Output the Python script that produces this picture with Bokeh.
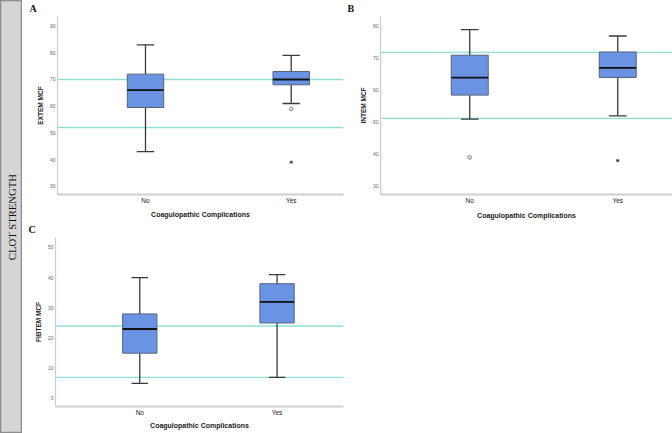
import math
from bokeh.plotting import figure
from bokeh.layouts import row, column
from bokeh.models import Range1d, FixedTicker, Span, Label
from bokeh.embed import file_html
from bokeh.resources import INLINE

# ---------------- data ----------------
categories = ["No", "Yes"]

extem_low = [43, 61]
extem_q1 = [59.5, 68]
extem_median = [66, 70]
extem_q3 = [72, 73]
extem_high = [83, 79]
extem_mild_cat = ["Yes"]
extem_mild_val = [59]
extem_extreme_cat = ["Yes"]
extem_extreme_val = [39]
extem_refs = [52, 70]
extem_ticks = [30, 40, 50, 60, 70, 80, 90]

intem_low = [51, 52]
intem_q1 = [58.5, 64]
intem_median = [64, 67]
intem_q3 = [71, 72]
intem_high = [79, 77]
intem_mild_cat = ["No"]
intem_mild_val = [39]
intem_extreme_cat = ["Yes"]
intem_extreme_val = [38]
intem_refs = [51.2, 71.9]
intem_ticks = [30, 40, 50, 60, 70, 80]

fibtem_low = [5, 7]
fibtem_q1 = [15, 25]
fibtem_median = [23, 32]
fibtem_q3 = [28, 38]
fibtem_high = [40, 41]
fibtem_mild_cat = []
fibtem_mild_val = []
fibtem_extreme_cat = []
fibtem_extreme_val = []
fibtem_refs = [7, 24]
fibtem_ticks = [0, 10, 20, 30, 40, 50]

x_title = "Coagulopathic Complications"
side_label = "CLOT STRENGTH"

# ---------------- style ----------------
BOX_FILL = "#6a93e4"
BOX_LINE = "#56647a"
WHISK = "#3a3a3a"
REF = "#8fe0d4"
AXIS = "#cfcfcf"
SANS = "Liberation Sans"
SERIF = "Liberation Serif"
BOX_W = 0.25
CAP_W = 0.12

pos = {c: i + 1 for i, c in enumerate(categories)}
xs = [pos[c] for c in categories]


def make_panel(letter, letter_off, ylabel, low, q1, med, q3, high,
               mild_cat, mild_val, ext_cat, ext_val, refs, yticks,
               xr, yr, width, height, mbl, mbr, mbt, mbb, xlab_standoff):
    p = figure(width=width, height=height, x_range=Range1d(*xr), y_range=Range1d(*yr),
               output_backend="svg", toolbar_location=None, title=letter,
               min_border_left=mbl, min_border_right=mbr,
               min_border_top=mbt, min_border_bottom=mbb)
    p.outline_line_color = None
    p.grid.visible = False
    p.background_fill_color = "white"
    p.border_fill_color = "white"

    p.title.text_font = SERIF
    p.title.text_font_style = "bold"
    p.title.text_font_size = "10px"
    p.title.text_color = "#111111"
    p.title.align = "left"
    p.title.vertical_align = "top"
    p.title.offset = letter_off
    p.title.standoff = 2

    for r in refs:
        p.add_layout(Span(location=r, dimension="width", line_color=REF,
                          line_width=1.3, level="underlay"))

    # whiskers
    p.segment(x0=xs, y0=q3, x1=xs, y1=high, line_color=WHISK, line_width=1.3)
    p.segment(x0=xs, y0=q1, x1=xs, y1=low, line_color=WHISK, line_width=1.3)
    # caps
    p.segment(x0=[x - CAP_W / 2 for x in xs], y0=high, x1=[x + CAP_W / 2 for x in xs], y1=high,
              line_color=WHISK, line_width=1.3)
    p.segment(x0=[x - CAP_W / 2 for x in xs], y0=low, x1=[x + CAP_W / 2 for x in xs], y1=low,
              line_color=WHISK, line_width=1.3)
    # boxes
    p.vbar(x=xs, width=BOX_W, bottom=q1, top=q3, fill_color=BOX_FILL,
           line_color=BOX_LINE, line_width=1)
    # medians
    p.segment(x0=[x - BOX_W / 2 for x in xs], y0=med, x1=[x + BOX_W / 2 for x in xs], y1=med,
              line_color="#111111", line_width=1.8)
    # outliers
    if mild_val:
        p.scatter(x=[pos[c] for c in mild_cat], y=mild_val, marker="circle", size=3.5,
                  fill_color="white", line_color="#555555", line_width=0.8)
    if ext_val:
        p.scatter(x=[pos[c] for c in ext_cat], y=ext_val, marker="asterisk", size=3.5,
                  line_color="#444444", line_width=0.9)

    # axes
    p.xaxis.ticker = FixedTicker(ticks=xs)
    p.xaxis.major_label_overrides = {pos[c]: c for c in categories}
    p.xaxis.axis_label = x_title
    p.xaxis.axis_label_text_font = SANS
    p.xaxis.axis_label_text_font_style = "bold"
    p.xaxis.axis_label_text_font_size = "7px"
    p.xaxis.axis_label_text_color = "#222222"
    p.xaxis.axis_label_standoff = xlab_standoff
    p.xaxis.major_label_text_font = SANS
    p.xaxis.major_label_text_font_size = "6.5px"
    p.xaxis.major_label_text_color = "#222222"
    p.xaxis.major_label_standoff = 2
    p.xaxis.major_tick_out = 0
    p.xaxis.major_tick_in = 0
    p.xaxis.minor_tick_out = 0
    p.xaxis.minor_tick_in = 0
    p.xaxis.axis_line_color = AXIS
    p.xaxis.axis_line_width = 2
    p.xaxis.major_tick_line_color = None
    p.xaxis.minor_tick_line_color = None

    p.yaxis.ticker = FixedTicker(ticks=yticks)
    p.yaxis.axis_label = ylabel
    p.yaxis.axis_label_text_font = SANS
    p.yaxis.axis_label_text_font_style = "bold"
    p.yaxis.axis_label_text_font_size = "6.5px"
    p.yaxis.axis_label_text_color = "#222222"
    p.yaxis.axis_label_standoff = 3
    p.yaxis.major_label_text_font = SANS
    p.yaxis.major_label_text_font_size = "5px"
    p.yaxis.major_label_text_color = "#666666"
    p.yaxis.major_label_standoff = 2
    p.yaxis.major_tick_out = 0
    p.yaxis.major_tick_in = 0
    p.yaxis.minor_tick_out = 0
    p.yaxis.minor_tick_in = 0
    p.yaxis.axis_line_color = AXIS
    p.yaxis.axis_line_width = 1.3
    p.yaxis.major_tick_line_color = None
    p.yaxis.minor_tick_line_color = None
    return p


pa = make_panel("A", -28, "EXTEM MCF", extem_low, extem_q1, extem_median, extem_q3, extem_high,
                extem_mild_cat, extem_mild_val, extem_extreme_cat, extem_extreme_val,
                extem_refs, extem_ticks, (0.396, 2.359), (26.9, 93.6),
                323, 222, 35, 2, 16, 28, 4)
pb = make_panel("B", -33, "INTEM MCF", intem_low, intem_q1, intem_median, intem_q3, intem_high,
                intem_mild_cat, intem_mild_val, intem_extreme_cat, intem_extreme_val,
                intem_refs, intem_ticks, (0.397, 2.37), (27.4, 83.1),
                327, 222, 35, 0, 16, 25, 5)
pc = make_panel("C", -27, "FIBTEM MCF", fibtem_low, fibtem_q1, fibtem_median, fibtem_q3, fibtem_high,
                fibtem_mild_cat, fibtem_mild_val, fibtem_extreme_cat, fibtem_extreme_val,
                fibtem_refs, fibtem_ticks, (0.386, 2.484), (-2.65, 53.3),
                323, 211, 33, 2, 15, 27, 3)

bar = figure(width=22, height=433, x_range=Range1d(0, 1), y_range=Range1d(0, 1),
             output_backend="svg", toolbar_location=None, x_axis_type=None, y_axis_type=None,
             min_border=0)
bar.grid.visible = False
bar.background_fill_color = "#d5d5d5"
bar.border_fill_color = "white"
bar.outline_line_color = "#8c8c8c"
bar.outline_line_width = 1.5
bar.add_layout(Label(x=0.5, y=0.5, text=side_label, angle=math.pi / 2,
                     text_align="center", text_baseline="middle",
                     text_font=SERIF, text_font_size="10.7px", text_color="#111111"))

layout = row(bar, column(row(pa, pb), pc))

open("out.html", "w").write(file_html(layout, INLINE))
